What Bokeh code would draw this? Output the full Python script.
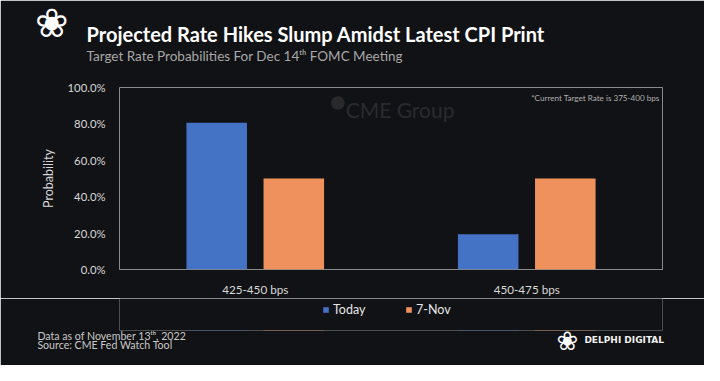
from bokeh.plotting import figure
from bokeh.layouts import column
from bokeh.models import (ColumnDataSource, FactorRange, Range1d, NumeralTickFormatter,
                          Label, BoxAnnotation, Legend, LegendItem, FixedTicker, Title)
from bokeh.transform import dodge
from bokeh.embed import file_html
from bokeh.resources import INLINE

# ---- data ----
categories = ["425-450 bps", "450-475 bps"]
today = [0.806, 0.194]
nov7 = [0.500, 0.500]
series_names = ["Today", "7-Nov"]
y_ticks = [0.0, 0.2, 0.4, 0.6, 0.8, 1.0]

title_text = "Projected Rate Hikes Slump Amidst Latest CPI Print"
subtitle_text = "Target Rate Probabilities For Dec 14\u1d57\u02b0 FOMC Meeting"
note_text = "*Current Target Rate is 375-400 bps"
footer1 = "Data as of November 13\u1d57\u02b0, 2022"
footer2 = "Source: CME Fed Watch Tool"
brand = "DELPHI DIGITAL"
logo_char = "\u2740"

BG = "#111215"
FONT = "Lato"
BLUE = "#4472C4"
ORANGE = "#EF915D"

W, H = 704, 365
KX, KY = W / 720, H / 381          # reference picture -> figure pixels
FL, FR, FT, FB = round(122 * KX), round(677 * KX), round(91 * KY), round(282 * KY)
MAIN_H = 298
FOOT_H = H - MAIN_H
FOOT_FRAME_H = 32

# ---------------- main chart ----------------
p = figure(width=W, height=MAIN_H,
           x_range=FactorRange(*categories), y_range=Range1d(0, 1),
           output_backend="svg", toolbar_location=None,
           min_border_left=FL, min_border_right=W - FR,
           min_border_top=FT, min_border_bottom=MAIN_H - FB,
           background_fill_color=BG, border_fill_color=BG,
           outline_line_color="#8a8a8a", outline_line_width=1)
p.xgrid.visible = False
p.ygrid.visible = False

sx = lambda X: X * KX - FL
sy = lambda Y: FB - Y * KY

src = ColumnDataSource(dict(cat=categories, today=today, nov7=nov7))
bar_specs = [("today", -0.142, BLUE), ("nov7", 0.142, ORANGE)]
for col, off, colr in bar_specs:
    p.vbar(x=dodge("cat", off, range=p.x_range), top=col, width=0.223,
           source=src, fill_color=colr, line_color=None)

p.yaxis.ticker = FixedTicker(ticks=y_ticks)
p.yaxis.formatter = NumeralTickFormatter(format="0.0%")
p.yaxis.axis_label = "Probability"
for ax in (p.xaxis[0], p.yaxis[0]):
    ax.major_tick_line_color = None
    ax.minor_tick_line_color = None
    ax.axis_line_color = None
    ax.major_label_text_color = "#d9d9d9"
    ax.major_label_text_font = FONT
p.yaxis.major_label_text_font_size = "11.3px"
p.xaxis.major_label_text_font_size = "11.7px"
p.yaxis.major_label_standoff = 8
p.yaxis.axis_label_text_color = "#d9d9d9"
p.yaxis.axis_label_text_font = FONT
p.yaxis.axis_label_text_font_size = "12.5px"
p.yaxis.axis_label_text_font_style = "normal"
p.yaxis.axis_label_standoff = 9
p.xaxis.major_label_standoff = 6


def add_title(fig, place, text, size, color, style="normal", offset=0.0,
              standoff=0, font=FONT):
    fig.add_layout(Title(text=text, text_font=font, text_font_size=size, text_color=color,
                         text_font_style=style, align="left", offset=offset,
                         standoff=standoff), place)


# header rows, stacked outward from the frame
add_title(p, "above", " ", "1px", BG, standoff=20)                       # spacer
add_title(p, "above", subtitle_text, "13.5px", "#a8a8a8", offset=86 - FL, standoff=1)
add_title(p, "above", title_text, "20px", "#ffffff", style="bold", offset=86 - FL, standoff=0)
add_title(p, "above", logo_char, "40px", "#ffffff", offset=-84.6, standoff=-52,
          font="DejaVu Sans")

# watermark + note (inside the frame)
p.add_layout(BoxAnnotation(left=sx(338), right=sx(352), top=sy(101), bottom=sy(115),
                           left_units="screen", right_units="screen",
                           top_units="screen", bottom_units="screen",
                           fill_color="#29292b", fill_alpha=1, line_color=None,
                           border_radius=7))
for lx, ly, txt, size, colr, al in ((353, 115, "CME Group", "21px", "#2b2b2d", "left"),
                                    (674, 103.3, note_text, "8.1px", "#b0b0b0", "right")):
    p.add_layout(Label(x=sx(lx), y=sy(ly), x_units="screen", y_units="screen", text=txt,
                       text_font=FONT, text_font_size=size, text_color=colr,
                       text_align=al, text_baseline="alphabetic"))

# ---------------- legend + footer strip ----------------
foot = figure(width=W, height=FOOT_H, x_range=p.x_range, y_range=Range1d(10, 11),
              output_backend="svg", toolbar_location=None,
              x_axis_location=None, y_axis_location=None,
              min_border_left=FL, min_border_right=W - FR,
              min_border_top=0, min_border_bottom=FOOT_H - FOOT_FRAME_H,
              background_fill_color=BG, border_fill_color=BG, outline_line_color=None)
foot.center = []
foot.outline_line_color = None
foot.outline_line_alpha = 0
# same series (outside this strip's y range, so only their legend entries show)
legend_renderers = []
for col, off, colr in bar_specs:
    legend_renderers.append(
        foot.vbar(x=dodge("cat", off, range=foot.x_range), top=col, width=0.223,
                  source=src, fill_color=colr, line_color=None))

legend = Legend(items=[LegendItem(label=n, renderers=[r])
                       for n, r in zip(series_names, legend_renderers)],
                location=(203, 13), orientation="horizontal",
                glyph_width=7, glyph_height=7, label_height=14, label_width=44,
                label_standoff=4, padding=0, margin=0, spacing=28,
                border_line_color=None, background_fill_alpha=0,
                label_text_color="#e6e6e6", label_text_font=FONT,
                label_text_font_size="12.5px")
foot.add_layout(legend)

add_title(foot, "below", footer1, "10.6px", "#c8c8c8", offset=36.9 - FL, standoff=-6)
add_title(foot, "below", brand, "9px", "#f0f0f0", style="bold", offset=583.9 - FL,
          standoff=-11, font="DejaVu Sans")
add_title(foot, "below", logo_char, "26px", "#ffffff", offset=558.4 - 2.5 - FL,
          standoff=-33, font="DejaVu Sans")
add_title(foot, "below", footer2, "10.6px", "#c8c8c8", offset=36.9 - FL, standoff=-6)

page = column(p, foot, spacing=0)
open("out.html", "w").write(file_html(page, INLINE))
